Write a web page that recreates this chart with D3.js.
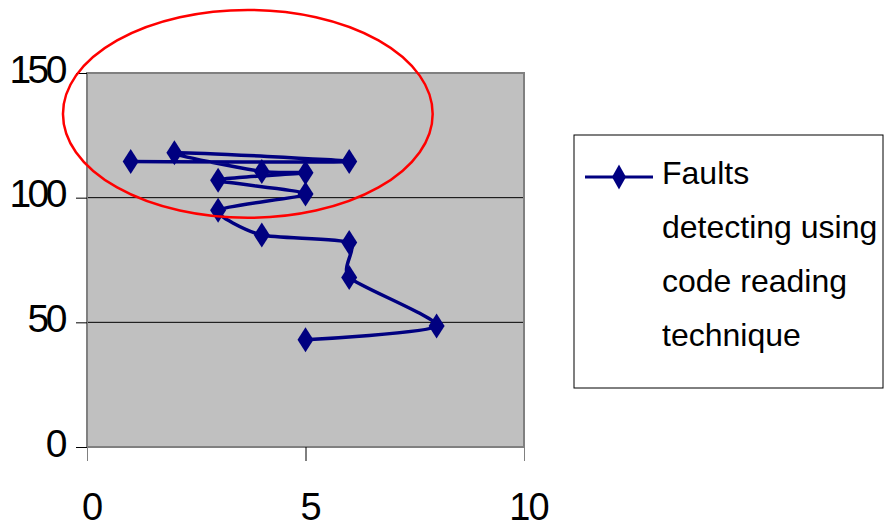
<!DOCTYPE html>
<html><head><meta charset="utf-8">
<script src="https://cdn.jsdelivr.net/npm/d3@7"></script>
<style>body{margin:0;background:#fff}svg{display:block}</style>
</head><body>
<svg id="c" width="885" height="529"></svg>
<script>
// Data (in drawing order)
const xValues = [1, 6, 2, 4, 5, 3, 5, 3, 4, 6, 6, 8, 5];
const yValues = [114.5, 114.5, 118, 110.5, 110, 107, 101.5, 95, 85, 82, 68, 48.5, 43];
const xTicks = [0, 5, 10];
const yTicks = [0, 50, 100, 150];
const gridValues = [50, 100];
const legendLines = ["Faults", "detecting using", "code reading", "technique"];

const points = xValues.map((v, i) => ({x: v, y: yValues[i]}));

const svg = d3.select("#c");
const FONT = "'Liberation Sans', Arial, sans-serif";
const pL = 87, pR = 524, pT = 73, pB = 447;
const x = d3.scaleLinear().domain([0, 10]).range([pL, pR]);
const y = d3.scaleLinear().domain([0, 150]).range([pB, pT]);

// plot area
svg.append("rect").attr("x", pL).attr("y", pT)
  .attr("width", pR - pL).attr("height", pB - pT)
  .attr("fill", "#c0c0c0");

// gridlines
svg.selectAll("line.grid").data(gridValues).join("line")
  .attr("class", "grid")
  .attr("x1", pL).attr("x2", pR)
  .attr("y1", d => y(d)).attr("y2", d => y(d))
  .attr("stroke", "#000").attr("stroke-width", 1);

// border
svg.append("rect").attr("x", pL).attr("y", pT)
  .attr("width", pR - pL).attr("height", pB - pT)
  .attr("fill", "none").attr("stroke", "#808080").attr("stroke-width", 2);

// y axis
const gy = svg.append("g").attr("transform", `translate(${pL},0)`)
  .call(d3.axisLeft(y).tickValues(yTicks).tickSize(11).tickPadding(12).tickFormat(d3.format("d")));
gy.select(".domain").remove();
gy.selectAll(".tick line").attr("stroke", "#000");
gy.selectAll(".tick text")
  .attr("dy", "9px")
  .attr("fill", "#000")
  .style("font-family", FONT).style("font-size", "39px")
  .style("letter-spacing", "-3.5px");

// x axis
const gx = svg.append("g").attr("transform", `translate(0,${pB})`)
  .call(d3.axisBottom(x).tickValues(xTicks).tickSize(14).tickFormat(d3.format("d")));
gx.select(".domain").remove();
gx.selectAll(".tick line").attr("stroke", d => d === 5 ? "#000" : "#808080");
gx.selectAll(".tick text")
  .attr("y", 73).attr("dy", 0).attr("dx", 4)
  .attr("fill", "#000")
  .style("font-family", FONT).style("font-size", "38px")
  .style("letter-spacing", "-2px");

// series line
const line = d3.line().x(d => x(d.x)).y(d => y(d.y)).curve(d3.curveCardinal.tension(0.35));
svg.append("path").datum(points)
  .attr("d", line)
  .attr("fill", "none").attr("stroke", "#000080")
  .attr("stroke-width", 3.5).attr("stroke-linejoin", "round");

// markers
const diamond = (w, h) => `M0,${-h}L${w},0L0,${h}L${-w},0Z`;
svg.selectAll("path.marker").data(points).join("path")
  .attr("class", "marker")
  .attr("transform", d => `translate(${x(d.x)},${y(d.y)})`)
  .attr("d", diamond(8, 12.5))
  .attr("fill", "#000080");

// legend
const lg = svg.append("g");
lg.append("rect").attr("x", 574).attr("y", 135).attr("width", 309).attr("height", 253)
  .attr("fill", "#fff").attr("stroke", "#000").attr("stroke-width", 1);
lg.append("line").attr("x1", 585).attr("x2", 653).attr("y1", 177).attr("y2", 177)
  .attr("stroke", "#000080").attr("stroke-width", 3);
lg.append("path").attr("transform", "translate(619,177)").attr("d", diamond(7, 12.5))
  .attr("fill", "#000080");
lg.selectAll("text").data(legendLines).join("text")
  .attr("x", 662).attr("y", (d, i) => 184 + i * 54)
  .attr("fill", "#000")
  .style("font-family", FONT).style("font-size", "32px")
  .text(d => d);

// red annotation ellipse
svg.append("ellipse")
  .attr("cx", x(3.68)).attr("cy", y(133.6))
  .attr("rx", x(4.23) - x(0)).attr("ry", y(0) - y(41.7))
  .attr("fill", "none").attr("stroke", "#ff0000").attr("stroke-width", 2.5);
</script>
</body></html>
